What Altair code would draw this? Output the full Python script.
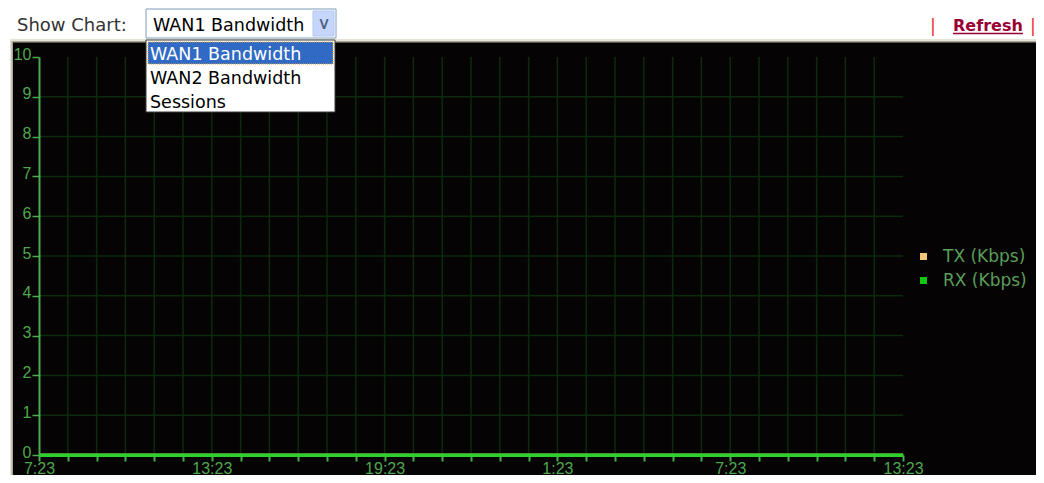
import altair as alt
import pandas as pd

# ---------------- data ----------------
times = ["7:23", "8:23", "9:23", "10:23", "11:23", "12:23", "13:23", "14:23",
         "15:23", "16:23", "17:23", "18:23", "19:23", "20:23", "21:23", "22:23",
         "23:23", "0:23", "1:23", "2:23", "3:23", "4:23", "5:23", "6:23",
         "7:23", "8:23", "9:23", "10:23", "11:23", "12:23", "13:23"]
tx_kbps = [0, 0, 0, 0, 0, 0, 0, 0, 0, 0, 0, 0, 0, 0, 0, 0,
           0, 0, 0, 0, 0, 0, 0, 0, 0, 0, 0, 0, 0, 0, 0]
rx_kbps = [0, 0, 0, 0, 0, 0, 0, 0, 0, 0, 0, 0, 0, 0, 0, 0,
           0, 0, 0, 0, 0, 0, 0, 0, 0, 0, 0, 0, 0, 0, 0]
series_names = ["TX (Kbps)", "RX (Kbps)"]
series_colors = ["#f2c878", "#12c812"]
y_ticks = [0, 1, 2, 3, 4, 5, 6, 7, 8, 9, 10]
y_grid = [1, 2, 3, 4, 5, 6, 7, 8, 9]
x_tick_labels = ["7:23", "13:23", "19:23", "1:23", "7:23", "13:23"]
show_label = "Show Chart:"
chart_options = ["WAN1 Bandwidth", "WAN2 Bandwidth", "Sessions"]
selected_option = "WAN1 Bandwidth"
refresh_label = "Refresh"

# ---------------- tables ----------------
hours = list(range(len(times)))
df = pd.DataFrame({
    "h": hours * 2,
    "time": times * 2,
    "v": tx_kbps + rx_kbps,
    "s": [series_names[0]] * len(times) + [series_names[1]] * len(times),
})
df_hours = pd.DataFrame({"h": hours})
df_ygrid = pd.DataFrame({"g": y_grid})
one = pd.DataFrame({"k": [0]})

# ---------------- styling ----------------
OX, OY = 39, 57          # page position of the plot origin
W, H = 864, 398
PAGE_L, PAGE_T = 8, 8
PAGE_R, PAGE_B = 1036, 475
GREEN_LABEL = "#4fa64f"
GREEN_AXIS = "#4caa4c"
GRID = "#0b2b0b"
PANEL = "#050303"
UI_FONT = "DejaVu Sans"
AX_FONT = "Liberation Sans, Arial, sans-serif"


def px(x):
    return x - OX


def py(y):
    return y - OY


def box(x1, y1, x2, y2, fill=None, stroke=None, sw=1, dash=None):
    kw = {}
    if fill is not None:
        kw["fill"] = fill
    else:
        kw["fillOpacity"] = 0
    if stroke is not None:
        kw["stroke"] = stroke
        kw["strokeWidth"] = sw
    if dash is not None:
        kw["strokeDash"] = dash
    return alt.Chart(one).mark_rect(**kw).encode(
        x=alt.value(px(x1)), x2=alt.value(px(x2)),
        y=alt.value(py(y1)), y2=alt.value(py(y2)))


def label(text, x, y, size=17.5, color="#000000", weight="normal",
          align="left", angle=0, font=UI_FONT, baseline="alphabetic"):
    return alt.Chart(one).mark_text(
        text=text, font=font, fontSize=size, color=color, fontWeight=weight,
        align=align, angle=angle, baseline=baseline).encode(
        x=alt.value(px(x)), y=alt.value(py(y)))


def hline(x1, x2, y, color, sw=1):
    return alt.Chart(one).mark_rule(color=color, strokeWidth=sw).encode(
        x=alt.value(px(x1)), x2=alt.value(px(x2)), y=alt.value(py(y)))


xs = alt.Scale(domain=[0, len(times) - 1], nice=False, zero=False)
ys = alt.Scale(domain=[0, 10], nice=False)
cs = alt.Scale(domain=series_names, range=series_colors)

# label every sixth hourly tick, blank for the others
label_expr = "''"
for i in range(len(x_tick_labels) - 1, -1, -1):
    label_expr = f"datum.value == {i * 6} ? '{x_tick_labels[i]}' : ({label_expr})"

# the same axis objects go on every layer so that the shared axes merge cleanly
x_axis = alt.Axis(values=hours, labelExpr=label_expr, grid=False,
                  domainColor="#2ed02e", domainWidth=3,
                  tickColor=GREEN_AXIS, tickWidth=2, tickSize=6,
                  labelColor=GREEN_LABEL, labelFont=AX_FONT, labelFontSize=16,
                  labelPadding=-1, labelOverlap=False, labelBound=False,
                  labelFlush=False, title=None, zindex=2)
y_axis = alt.Axis(values=y_ticks, grid=False, domainColor=GREEN_AXIS,
                  domainWidth=2, tickColor=GREEN_AXIS, tickWidth=1.5,
                  tickSize=7, labelPadding=1, labelOffset=-3,
                  labelColor=GREEN_LABEL, labelFont=AX_FONT, labelFontSize=16,
                  title=None, zindex=2)


def X(field):
    return alt.X(field, scale=xs, axis=x_axis)


def Y(field):
    return alt.Y(field, scale=ys, axis=y_axis)


# ---------------- layers ----------------
# dark panel with a bevelled top/left edge, white page strip above/left
frame = [
    box(PAGE_L, PAGE_T, PAGE_R, PAGE_B, fill="#ffffff"),
    box(10, 39, PAGE_R, PAGE_B, fill="#e6e2d8"),
    box(11.5, 41, PAGE_R, PAGE_B, fill="#a9a59a"),
    box(13, 42.5, PAGE_R, PAGE_B, fill=PANEL),
]

vgrid = alt.Chart(df_hours).transform_filter(
    f"datum.h > 0 && datum.h < {len(times) - 1}"
).mark_rule(color=GRID, strokeWidth=1.5).encode(x=X("h:Q"))
hgrid = alt.Chart(df_ygrid).mark_rule(color=GRID, strokeWidth=1.5).encode(
    y=Y("g:Q"))

base = alt.Chart(df)
tx_line = base.transform_filter(alt.datum.s == series_names[0]).mark_line(
    strokeWidth=3, color=series_colors[0]).encode(x=X("h:Q"), y=Y("v:Q"))
rx_line = base.transform_filter(alt.datum.s == series_names[1]).mark_line(
    strokeWidth=3, color=series_colors[1]).encode(x=X("h:Q"), y=Y("v:Q"))
legend_layer = base.mark_rect().encode(
    x=X("h:Q"), x2=alt.X2("h"), y=Y("v:Q"), y2=alt.Y2("v"),
    color=alt.Color("s:N", scale=cs, legend=alt.Legend(
        title=None, orient="none", legendX=px(915), legendY=py(248),
        symbolType="square", symbolSize=49, symbolStrokeWidth=0,
        labelFont=UI_FONT, labelFontSize=17, labelColor="#5a9e5a",
        labelOffset=11, rowPadding=6, padding=0, zindex=2)))

header = [
    label(show_label, 17, 31, size=18, color="#333333"),
    box(146, 9, 336, 38, fill="#ffffff", stroke="#7f9db9"),
    box(313, 11, 334, 36, fill="#c6d6fb", stroke="#b3c6f2"),
    label(">", 323.5, 24, size=16, color="#4d6185", weight="bold",
          align="center", angle=90, baseline="middle"),
    label(selected_option, 153, 31),
    box(146, 40, 335, 112, fill="#ffffff", stroke="#3a3a3a"),
    box(148, 42, 333, 64, fill="#316ac5"),
    box(148, 42, 333, 64, stroke="#e0a040", dash=[1, 1]),
    label(chart_options[0], 150, 60, color="#ffffff"),
    label(chart_options[1], 150, 84),
    label(chart_options[2], 150, 108),
    label("|", 933, 32, color="#ee3333", align="center"),
    label(refresh_label, 953, 31, size=16, color="#990033", weight="bold"),
    hline(953, 1023, 33.5, "#990033", 1.5),
    label("|", 1033, 32, color="#ee3333", align="center"),
]

chart = alt.layer(
    *frame, vgrid, hgrid, tx_line, rx_line, legend_layer, *header
).properties(
    width=W, height=H,
    autosize=alt.AutoSizeParams(type="none"),
    padding={"left": OX - PAGE_L, "top": OY - PAGE_T,
             "right": PAGE_R - OX - W, "bottom": PAGE_B - OY - H},
).configure_view(strokeWidth=0)

chart.save("out.html", embed_options={"renderer": "svg", "actions": False})
